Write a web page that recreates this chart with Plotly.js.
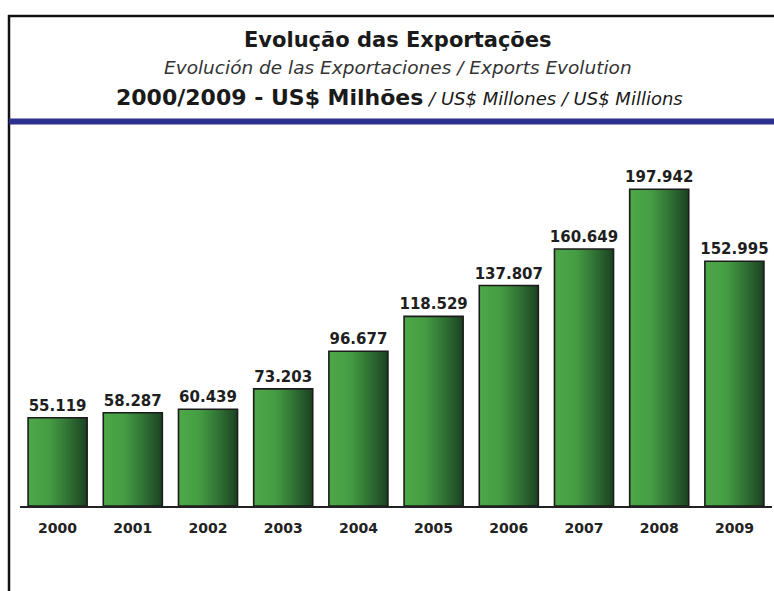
<!DOCTYPE html>
<html>
<head>
<meta charset="utf-8">
<script src="https://cdn.plot.ly/plotly-3.0.1.min.js"></script>
<style>
html,body{margin:0;padding:0;background:#fff;}
#chart{width:774px;height:591px;}
</style>
</head>
<body>
<div id="chart"></div>
<script>
// ---- data ----
const years = ['2000','2001','2002','2003','2004','2005','2006','2007','2008','2009'];
const exportsUSD = [55119, 58287, 60439, 73203, 96677, 118529, 137807, 160649, 197942, 152995];
const titleMain = 'Evolução das Exportações';
const titleSub = 'Evolución de las Exportaciones / Exports Evolution';
const titlePeriod = '2000/2009 - US$ Milhões';
const titleUnits = ' / US$ Millones / US$ Millions';

// ---- layout geometry (pixels) ----
const W = 774, H = 591;
const M = {l: 20, r: 2, t: 154, b: 85};
const plotW = W - M.l - M.r, plotH = H - M.t - M.b;
const px2x = X => (X - M.l) / plotW;
const px2y = Y => (H - M.b - Y) / plotH;

// ---- gradient bars built from vertical strips ----
const barW = 0.785;
const N = 40;
const stops = [[0, [78,168,72]], [0.35, [70,158,68]], [0.65, [50,118,54]], [1, [28,66,34]]];
function gradColor(t) {
  for (let k = 0; k < stops.length - 1; k++) {
    const [t0, c0] = stops[k], [t1, c1] = stops[k+1];
    if (t >= t0 && t <= t1) {
      const f = (t - t0) / (t1 - t0);
      const c = c0.map((v, j) => Math.round(v + (c1[j] - v) * f));
      return `rgb(${c[0]},${c[1]},${c[2]})`;
    }
  }
  return 'rgb(28,66,34)';
}
const traces = [];
for (let i = 0; i < N; i++) {
  const last = (i === N - 1);
  traces.push({
    type: 'bar', x: years, y: exportsUSD,
    width: last ? barW / N : barW / N * 2,
    offset: -barW / 2 + i * barW / N,
    marker: {color: gradColor((i + 0.5) / N), line: {width: 0}},
    hoverinfo: 'skip', showlegend: false
  });
}
traces.push({
  type: 'bar', x: years, y: exportsUSD,
  width: barW, offset: -barW / 2,
  marker: {color: 'rgba(0,0,0,0)', line: {color: '#1b1b1b', width: 1.6}},
  texttemplate: '%{y:,.0f}', textposition: 'outside', constraintext: 'none',
  textfont: {family: 'DejaVu Sans', size: 15, weight: 'bold', color: '#1e1e1e'},
  cliponaxis: false, hoverinfo: 'skip', showlegend: false
});

const layout = {
  width: W, height: H,
  margin: M,
  paper_bgcolor: '#fff', plot_bgcolor: '#fff',
  separators: ',.',
  barmode: 'overlay',
  showlegend: false,
  xaxis: {
    type: 'category', range: [-0.5, 9.5],
    showline: true, linecolor: '#222', linewidth: 1.5,
    showgrid: false, zeroline: false, ticks: '',
    ticklabelstandoff: 9,
    tickfont: {family: 'DejaVu Sans', size: 14, weight: 'bold', color: '#222'},
    fixedrange: true
  },
  yaxis: {
    range: [0, 220000], visible: false, showgrid: false, zeroline: false, fixedrange: true
  },
  shapes: [
    {type: 'line', xref: 'paper', yref: 'paper', x0: px2x(8), x1: px2x(776), y0: px2y(16), y1: px2y(16), line: {color: '#111', width: 2.5}},
    {type: 'line', xref: 'paper', yref: 'paper', x0: px2x(9), x1: px2x(9), y0: px2y(15), y1: px2y(595), line: {color: '#111', width: 2.5}},
    {type: 'line', xref: 'paper', yref: 'paper', x0: px2x(9), x1: px2x(776), y0: px2y(121.5), y1: px2y(121.5), line: {color: '#2e3090', width: 6}}
  ],
  annotations: [
    {text: titleMain, xref: 'paper', yref: 'paper', x: px2x(398), y: px2y(40), xanchor: 'center', yanchor: 'middle', showarrow: false,
     font: {family: 'DejaVu Sans', size: 21, weight: 'bold', color: '#1a1a1a'}},
    {text: titleSub, xref: 'paper', yref: 'paper', x: px2x(398), y: px2y(67), xanchor: 'center', yanchor: 'middle', showarrow: false,
     font: {family: 'DejaVu Sans', size: 18.5, style: 'italic', color: '#333'}},
    {text: '<b>' + titlePeriod + '</b><span style="font-size:18px;font-style:italic;">' + titleUnits + '</span>',
     xref: 'paper', yref: 'paper', x: px2x(399), y: px2y(98), xanchor: 'center', yanchor: 'middle', showarrow: false,
     font: {family: 'DejaVu Sans', size: 22, color: '#1a1a1a'}}
  ]
};

Plotly.newPlot('chart', traces, layout, {displayModeBar: false, staticPlot: true});
</script>
</body>
</html>
